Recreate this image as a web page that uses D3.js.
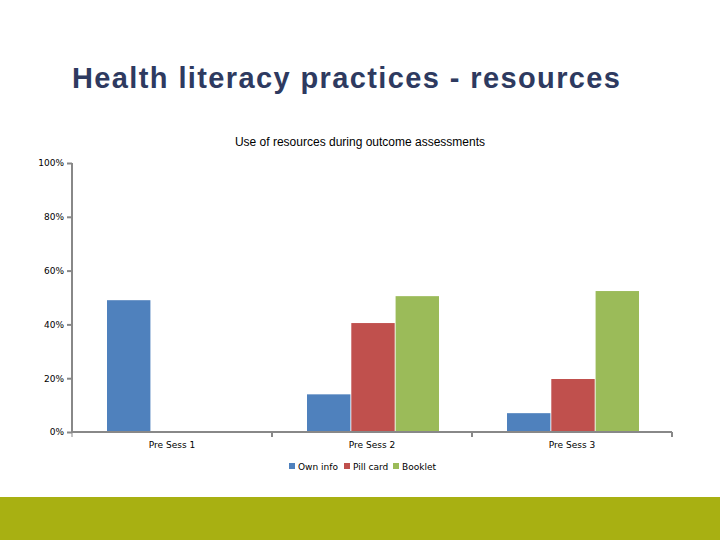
<!DOCTYPE html><html><head><meta charset="utf-8"><script src="https://cdn.jsdelivr.net/npm/d3@7"></script>
<style>body{margin:0;background:#fff}</style></head><body><svg width="720" height="540"></svg>
<script>
const categories=["Pre Sess 1","Pre Sess 2","Pre Sess 3"];
const seriesNames=["Own info","Pill card","Booklet"];
const ownInfo=[49,14,7];
const pillCard=[0,40.5,19.7];
const booklet=[0,50.5,52.4];
const colors=["#4f81bd","#c0504d","#9bbb59"];
const yTicks=[0,20,40,60,80,100];
const svg=d3.select("svg");
svg.append("rect").attr("x",0).attr("y",497).attr("width",720).attr("height",43).attr("fill","#a8b012");
svg.append("text").attr("x",72).attr("y",88).attr("font-family","Liberation Sans, Arial").attr("font-size",29).attr("font-weight","bold").attr("textLength",548).attr("fill","#2e3a60").text("Health literacy practices - resources");
svg.append("text").attr("x",360).attr("y",146).attr("text-anchor","middle").attr("font-family","Liberation Sans, Arial").attr("font-size",12).attr("fill","#000").text("Use of resources during outcome assessments");
const x=d3.scaleBand().domain(categories).range([72,672]);
const y=d3.scaleLinear().domain([0,100]).range([432,163]);
const x1=d3.scaleBand().domain(seriesNames).range([35,167]).paddingInner(0.02);
const data=[ownInfo,pillCard,booklet];
const g=svg.append("g");
categories.forEach((c,i)=>{seriesNames.forEach((s,j)=>{const v=data[j][i];if(!v)return;
g.append("rect").attr("x",x(c)+x1(s)).attr("y",y(v)).attr("width",x1.bandwidth()).attr("height",y(0)-y(v)).attr("fill",colors[j]);});});
const ya=svg.append("g").attr("transform","translate(72,0)").call(d3.axisLeft(y).tickValues(yTicks).tickSize(5).tickFormat(d=>d+"%"));
const xa=svg.append("g").attr("transform","translate(0,432)").call(d3.axisBottom(x).tickSize(0).tickPadding(10));
xa.selectAll(".tick").append("line").attr("x1",100).attr("x2",100).attr("y2",5).attr("stroke","#888");
svg.append("line").attr("x1",72).attr("x2",72).attr("y1",432).attr("y2",437).attr("stroke","#888");
[ya,xa].forEach(a=>{a.selectAll("path,line").attr("stroke","#888").attr("stroke-width",2);a.selectAll("text").attr("font-family","DejaVu Sans").attr("font-size",9).attr("fill","#000");});
ya.select("path").attr("d","M0,163V432");
xa.select("path").attr("d","M72,0H672");
const lg=svg.append("g").attr("font-family","DejaVu Sans").attr("font-size",9);
const lx=[289,344,393];
seriesNames.forEach((s,j)=>{lg.append("rect").attr("x",lx[j]).attr("y",463).attr("width",6).attr("height",6).attr("fill",colors[j]);
lg.append("text").attr("x",lx[j]+9).attr("y",470).text(s);});
</script></body></html>
